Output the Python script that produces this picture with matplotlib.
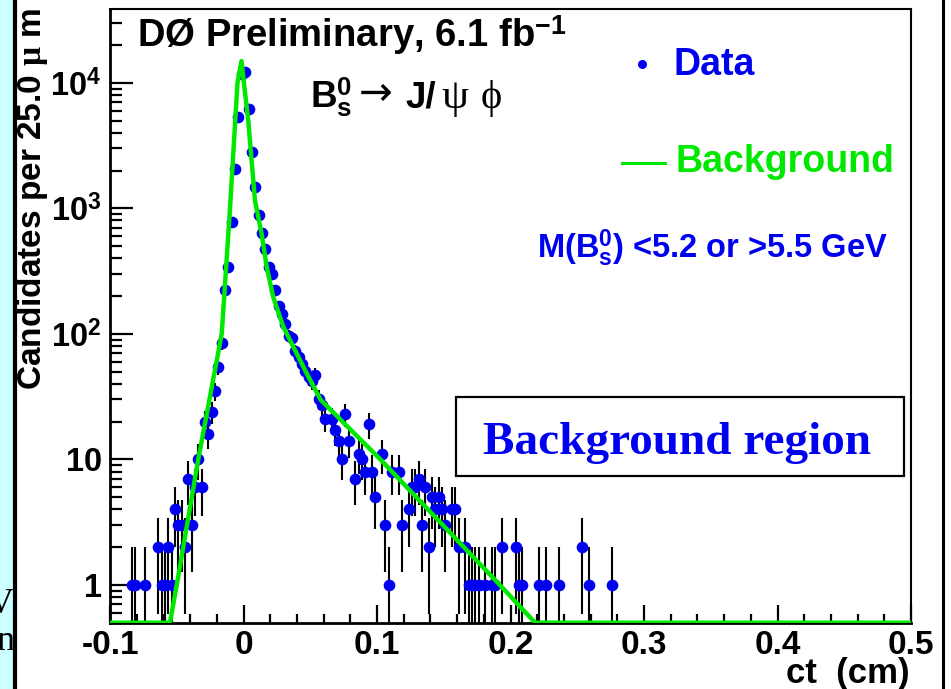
import numpy as np
import matplotlib
matplotlib.use("Agg")
import matplotlib.pyplot as plt
from matplotlib.patches import Rectangle
from matplotlib.lines import Line2D
from matplotlib.ticker import FixedLocator, LogLocator, MultipleLocator, NullFormatter

plt.rcParams['font.family'] = ['Liberation Sans', 'DejaVu Sans']
plt.rcParams['font.weight'] = 'bold'
plt.rcParams['mathtext.fontset'] = 'custom'
plt.rcParams['mathtext.rm'] = 'Liberation Sans:bold'
plt.rcParams['mathtext.bf'] = 'Liberation Sans:bold'
plt.rcParams['mathtext.sf'] = 'Liberation Sans:bold'
plt.rcParams['mathtext.it'] = 'Liberation Serif'
plt.rcParams['axes.unicode_minus'] = False

# ------------------------------
# data (bin width 25 um = 0.0025 cm)
# ------------------------------
ct = [-0.08375, -0.08125, -0.07375, -0.06375, -0.06125, -0.05875, -0.05625, -0.05375,
      -0.05125, -0.04875, -0.04625, -0.04375, -0.04125, -0.03875, -0.03625, -0.03375,
      -0.03125, -0.02875, -0.02625, -0.02375, -0.02125, -0.01875, -0.01625, -0.01375,
      -0.01125, -0.00875, -0.00625, -0.00375, -0.00125, 0.00125, 0.00375, 0.00625,
      0.00875, 0.01125, 0.01375, 0.01625, 0.01875, 0.02125, 0.02375, 0.02625,
      0.02875, 0.03125, 0.03375, 0.03625, 0.03875, 0.04125, 0.04375, 0.04625,
      0.04875, 0.05125, 0.05375, 0.05625, 0.05875, 0.06125, 0.06625, 0.06875,
      0.07125, 0.07375, 0.07625, 0.07875, 0.08375, 0.08625, 0.08875, 0.09125,
      0.09375, 0.09625, 0.09875, 0.10375, 0.10625, 0.10875, 0.11125, 0.11625,
      0.11875, 0.12375, 0.12625, 0.12875, 0.13125, 0.13375, 0.13625, 0.13875,
      0.14125, 0.14375, 0.14625, 0.14875, 0.15125, 0.15625, 0.15875, 0.16125,
      0.16625, 0.16875, 0.17125, 0.17375, 0.17625, 0.18125, 0.18625, 0.18875,
      0.19375, 0.20375, 0.20625, 0.20875, 0.22125, 0.22625, 0.23625, 0.25375,
      0.25875, 0.27625]
counts = [1, 1, 1, 2, 1, 1, 2, 1,
          4, 3, 3, 2, 7, 3, 6, 10,
          6, 20, 16, 24, 35, 54, 84, 222,
          340, 774, 2055, 5340, 11800, 12300, 6150, 2820,
          1490, 887, 640, 476, 340, 302, 225, 166,
          143, 119, 97, 93, 73, 65, 58, 51,
          45, 42, 47, 30, 27, 21, 21, 17,
          14, 10, 23, 14, 7, 11, 10, 8,
          19, 8, 5, 11, 3, 1, 8, 8,
          3, 4, 6, 6, 7, 3, 6, 2,
          5, 4, 5, 4, 3, 4, 4, 2,
          2, 1, 1, 1, 1, 1, 1, 1,
          2, 2, 1, 1, 1, 1, 1, 2,
          1, 1]

# background fit curve
bkg_ct = [-0.1, -0.0551, -0.050, -0.0339, -0.0163, -0.0101, -0.0045, -0.0015, 0.0003,
          0.0036, 0.0086, 0.0136, 0.0174, 0.0223, 0.0298, 0.0386, 0.0473, 0.0578,
          0.1025, 0.192, 0.2184, 0.5]
bkg_val = [0.5, 0.5, 1, 10, 100, 1000, 10000, 14900, 10000,
           4970, 1150, 625, 340, 196, 114, 74, 48.5, 29.8,
           10, 1, 0.5, 0.5]

x_ticks = [-0.1, 0, 0.1, 0.2, 0.3, 0.4, 0.5]
x_labels = ['-0.1', '0', '0.1', '0.2', '0.3', '0.4', '0.5']
y_ticks = [1, 10, 100, 1000, 10000]
y_labels = ['1', '10', '$10^{2}$', '$10^{3}$', '$10^{4}$']

W, H = 951, 689
def fx(p):
    return p / W
def fy(p):
    return 1 - p / H

fig = plt.figure(figsize=(9.51, 6.89), dpi=100)

# slide remnants at the left / right edges
fig.patches.append(Rectangle((0, 0), fx(13), 1, transform=fig.transFigure,
                             facecolor='#ccffff', edgecolor='none', zorder=0))
for txt, py in [('V', 613), ('n', 650)]:
    fig.text(fx(14), fy(py), txt, ha='right', va='baseline', fontsize=26,
             family='Liberation Serif', fontweight='normal', color='black')
fig.add_artist(Line2D([fx(15), fx(15)], [0, 1], color='black', lw=3))
fig.add_artist(Line2D([fx(943), fx(943)], [0, 1], color='black', lw=2.2))

ax = fig.add_axes([fx(110), fy(622.7), fx(911) - fx(110), fy(9.3) - fy(622.7)])

yerr_lo = [min(np.sqrt(c), c - 1e-3) for c in counts]
yerr_hi = [np.sqrt(c) for c in counts]
ax.errorbar(ct, counts, yerr=[yerr_lo, yerr_hi], fmt='o', color='#0000f0',
            markersize=8.4, markeredgewidth=0, ecolor='black', elinewidth=1.5,
            capsize=0, zorder=3)

ymin, ymax = 0.5, 38500
ax.plot(bkg_ct, np.maximum(bkg_val, ymin), color='#00e800', lw=3.2, zorder=4)

ax.set_yscale('log')
ax.set_xlim(-0.1, 0.5)
ax.set_ylim(ymin, ymax)

ax.xaxis.set_major_locator(FixedLocator(x_ticks))
ax.set_xticklabels(x_labels)
ax.xaxis.set_minor_locator(MultipleLocator(0.02))
ax.yaxis.set_major_locator(FixedLocator(y_ticks))
ax.set_yticklabels(y_labels)
ax.yaxis.set_minor_locator(LogLocator(base=10, subs=np.arange(2, 10), numticks=20))
ax.yaxis.set_minor_formatter(NullFormatter())

ax.tick_params(axis='x', which='major', direction='in', length=13, width=1.6,
               labelsize=24, pad=5, top=False)
ax.tick_params(axis='x', which='minor', direction='in', length=6.5, width=1.6, top=False)
ax.tick_params(axis='y', which='major', direction='in', length=16.5, width=1.6,
               labelsize=23.5, pad=6, right=False)
ax.tick_params(axis='y', which='minor', direction='in', length=8.5, width=1.6, right=False)
for lab in ax.get_xticklabels() + ax.get_yticklabels():
    lab.set_fontweight('bold')

for side in ['left', 'bottom']:
    ax.spines[side].set_linewidth(2.0)
for side in ['top', 'right']:
    ax.spines[side].set_linewidth(1.5)

# labels
fig.text(fx(33), fy(199), r'Candidates per 25.0 $\mu$ m', rotation=90,
         ha='center', va='center', fontsize=24, fontweight='bold')
fig.text(fx(910), fy(683), 'ct  (cm)', ha='right', va='baseline',
         fontsize=25, fontweight='bold')

# annotations
fig.text(fx(137), fy(47), r'DØ Preliminary, 6.1 fb$^{-1}$', ha='left', va='baseline',
         fontsize=27.5, fontweight='bold', color='black')
fig.text(fx(310), fy(108), r'$\mathrm{B}_{\mathrm{s}}^{0}$',
         ha='left', va='baseline', fontsize=26.5, color='black')
fig.text(fx(359), fy(105), '→', ha='left', va='baseline', fontsize=29,
         family='DejaVu Sans', fontweight='normal', color='black')
fig.text(fx(405), fy(108), 'J/', ha='left', va='baseline', fontsize=26.5,
         fontweight='bold', color='black')
fig.text(fx(441), fy(108), 'ψ', ha='left', va='baseline', fontsize=31,
         family=['Liberation Serif', 'DejaVu Serif'], fontweight='normal', color='black')
fig.text(fx(481), fy(108), 'ϕ', ha='left', va='baseline', fontsize=29,
         family=['Liberation Serif', 'DejaVu Serif'], fontweight='normal', color='black')

fig.add_artist(Line2D([fx(642)], [fy(64)], marker='o', markersize=6.5,
                      color='#0000f0', markeredgewidth=0))
fig.text(fx(674), fy(75), 'Data', ha='left', va='baseline', fontsize=27,
         fontweight='bold', color='#0000f0')
fig.add_artist(Line2D([fx(622), fx(665)], [fy(163), fy(163)], color='#00e800', lw=2.2))
fig.text(fx(675), fy(172), 'Background', ha='left', va='baseline', fontsize=27,
         fontweight='bold', color='#00e800')
fig.text(fx(537), fy(258), r'M(B$_{\mathrm{s}}^{0}$) <5.2 or >5.5 GeV', ha='left',
         va='baseline', fontsize=23.5, fontweight='bold', color='#0000f0')

fig.patches.append(Rectangle((fx(456), fy(476)), fx(904) - fx(456), fy(397) - fy(476),
                             transform=fig.transFigure, facecolor='white',
                             edgecolor='black', lw=1.6, zorder=5))
fig.text(fx(483), fy(454), 'Background region', ha='left', va='baseline',
         fontsize=34, family='Liberation Serif', fontweight='bold', color='#0000f0',
         zorder=6)

fig.savefig('out.png', dpi=100)
